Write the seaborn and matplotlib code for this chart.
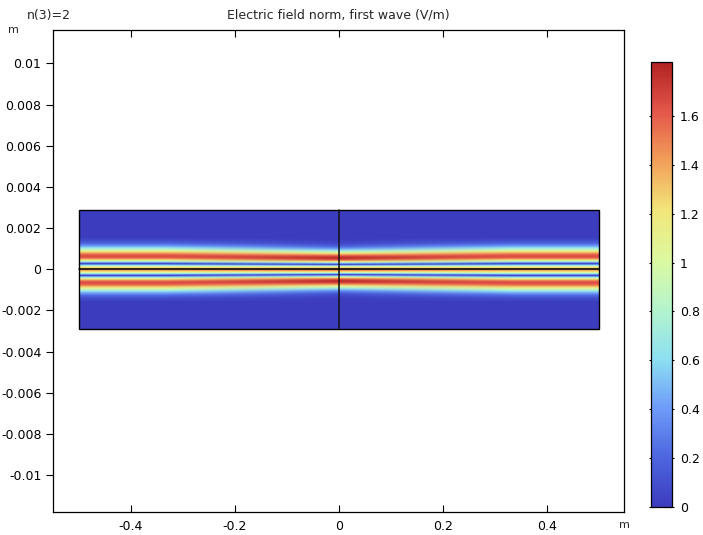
"""
Electric field norm, first wave - n(3)=2 beam profile in a rectangular domain
"""

import numpy as np
import matplotlib
matplotlib.use("Agg")
import matplotlib.pyplot as plt
from matplotlib.patches import Rectangle
from matplotlib.ticker import FuncFormatter
import seaborn as sns

sns.set_theme(style="ticks")
plt.rcParams['font.family'] = ['DejaVu Sans']

# Domain (m)
domain_x = [-0.5, 0.5]
domain_y = [-0.0029, 0.0029]

profile_x = [-0.5, 0.0, 0.5]

# half-profile y positions (m), evenly spaced; symmetric about y=0, zero beyond
profile_y = [0.0, 0.00005, 0.0001, 0.00015, 0.0002, 0.00025, 0.0003, 0.00035,
             0.0004, 0.00045, 0.0005, 0.00055, 0.0006, 0.00065, 0.0007, 0.00075,
             0.0008, 0.00085, 0.0009, 0.00095, 0.001, 0.00105, 0.0011, 0.00115,
             0.0012, 0.00125, 0.0013, 0.00135, 0.0014, 0.00145, 0.0015, 0.00155]

# |E| (V/m) at the waist (x=0)
field_center = [1.553, 1.476, 1.254, 0.910, 0.478, 0.0, 0.474, 0.910,
                1.274, 1.545, 1.712, 1.778, 1.754, 1.653, 1.501, 1.313,
                1.114, 0.915, 0.732, 0.568, 0.430, 0.317, 0.228, 0.160,
                0.109, 0.075, 0.050, 0.033, 0.020, 0.013, 0.008, 0.0]

# |E| (V/m) at the domain ends (x=+-0.5), beam slightly wider
field_edge = [1.445, 1.391, 1.233, 0.983, 0.662, 0.294, 0.030, 0.478,
              0.831, 1.133, 1.371, 1.538, 1.631, 1.655, 1.619, 1.532,
              1.409, 1.261, 1.100, 0.938, 0.782, 0.639, 0.509, 0.399,
              0.307, 0.231, 0.171, 0.126, 0.088, 0.062, 0.042, 0.0]

cbar_ticks = [0, 0.2, 0.4, 0.6, 0.8, 1.0, 1.2, 1.4, 1.6]
x_ticks = [-0.4, -0.2, 0, 0.2, 0.4]
y_ticks = [-0.01, -0.008, -0.006, -0.004, -0.002, 0, 0.002, 0.004, 0.006, 0.008, 0.01]

# COMSOL-like rainbow colormap
rainbow = sns.blend_palette(
    ['#3c3cbe', '#4d66e0', '#6e9cf8', '#8ee0f2', '#b4f4cc', '#dcf9a0',
     '#f2e67a', '#f2a05a', '#e4574a', '#b22222'], as_cmap=True)
vmin, vmax = 0, 1.82

# build full symmetric grid (rows top -> bottom for imshow)
def mirror(v):
    v = np.array(v)
    return np.concatenate([v[::-1], v[1:]])
cols = {-0.5: mirror(field_edge), 0.0: mirror(field_center), 0.5: mirror(field_edge)}
C = np.column_stack([cols[x] for x in profile_x])
dy = profile_y[1] - profile_y[0]
half_h = profile_y[-1] + dy / 2

fig = plt.figure(figsize=(7.03, 5.35), dpi=100)
ax = fig.add_axes([0.0758, 0.0436, 0.8122, 0.9004])
cax = fig.add_axes([0.926, 0.0523, 0.030, 0.8318])

# background of the domain (field ~ 0 away from the beam)
ax.add_patch(Rectangle((domain_x[0], domain_y[0]), domain_x[1] - domain_x[0],
                       domain_y[1] - domain_y[0], facecolor=rainbow(0.0),
                       edgecolor='none', zorder=1))
im = ax.imshow(C, cmap=rainbow, vmin=vmin, vmax=vmax, interpolation='bilinear',
               extent=[domain_x[0], domain_x[1], -half_h, half_h], aspect='auto',
               origin='upper', zorder=2)

# domain outline and internal boundaries
ax.add_patch(Rectangle((domain_x[0], domain_y[0]), domain_x[1] - domain_x[0],
                       domain_y[1] - domain_y[0], fill=False, edgecolor='black',
                       linewidth=1.0, zorder=4))
ax.plot([0, 0], domain_y, color='#111111', linewidth=1.1, zorder=4)
ax.plot(domain_x, [0, 0], color='black', linewidth=1.1, zorder=4)

ax.set_xlim(-0.549, 0.549)
ax.set_ylim(-0.01177, 0.01162)
ax.set_xticks(x_ticks)
ax.set_yticks(y_ticks)
fmt = FuncFormatter(lambda v, p: f"{round(v, 6):g}")
ax.xaxis.set_major_formatter(fmt)
ax.yaxis.set_major_formatter(fmt)
ax.tick_params(axis='x', direction='in', top=True, length=5, width=0.8,
               labelsize=9, colors='black', pad=6)
ax.tick_params(axis='y', direction='out', length=5, width=0.8, labelsize=9,
               colors='black')
for s in ax.spines.values():
    s.set_linewidth(0.9)
    s.set_color('black')
ax.grid(False)

ax.text(-0.069, 1.0, 'm', transform=ax.transAxes, fontsize=8, ha='center', va='center')
ax.text(1.0, -0.017, 'm', transform=ax.transAxes, fontsize=8, ha='center', va='top')
ax.text(-0.046, 1.031, 'n(3)=2', transform=ax.transAxes, fontsize=9, ha='left', va='center')
ax.text(0.5, 1.031, 'Electric field norm, first wave (V/m)', transform=ax.transAxes,
        fontsize=9, ha='center', va='center')

cb = fig.colorbar(im, cax=cax, ticks=cbar_ticks)
cb.ax.yaxis.set_major_formatter(FuncFormatter(lambda v, p: f"{round(v, 3):g}"))
cb.ax.tick_params(labelsize=9, length=3, width=0.8, direction='inout', pad=4,
                  left=True, colors='black')
cb.outline.set_linewidth(0.9)
cb.outline.set_edgecolor('black')

plt.savefig('out.png', dpi=100)
plt.close()
